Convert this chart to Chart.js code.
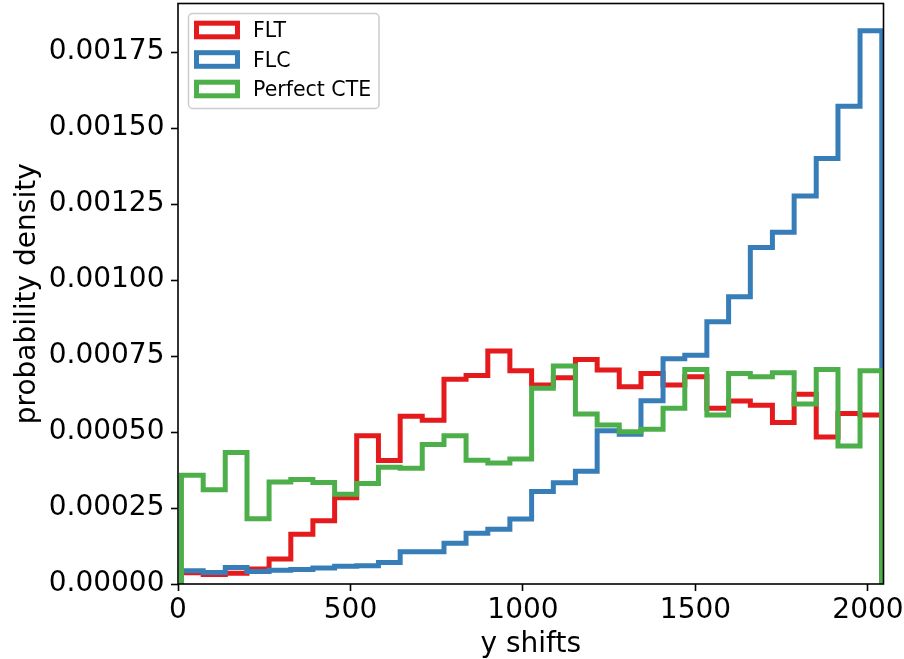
<!DOCTYPE html>
<html>
<head>
<meta charset="utf-8">
<script src="https://cdn.jsdelivr.net/npm/chart.js@4.4.0/dist/chart.umd.min.js"></script>
<style>
  html, body { margin: 0; padding: 0; background: #fff; }
  canvas { display: block; }
</style>
</head>
<body>
<canvas id="chart" width="904" height="659"></canvas>
<script>
// histogram bin edges (y shifts) and densities per bin
const binEdges = [10, 73, 137, 200, 264, 327, 391, 454, 518, 581, 644, 708, 771, 835, 898, 962,
  1025, 1088, 1152, 1215, 1279, 1342, 1406, 1469, 1533, 1596, 1659, 1723, 1786, 1850, 1913, 1977, 2040];

const fltDensity = [0.000037, 0.000031, 0.000035, 0.000049, 0.000082, 0.000164, 0.000208, 0.000284,
  0.000488, 0.000406, 0.000552, 0.000539, 0.000674, 0.000686, 0.000767, 0.000702,
  0.000655, 0.000679, 0.000739, 0.000704, 0.000649, 0.000693, 0.000655, 0.000682,
  0.000578, 0.000602, 0.000588, 0.000531, 0.000624, 0.000484, 0.000561, 0.000556];

const flcDensity = [0.000044, 0.000038, 0.000054, 0.000041, 0.000045, 0.000048, 0.000053, 0.000058,
  0.000060, 0.000071, 0.000106, 0.000106, 0.000134, 0.000167, 0.000180, 0.000214,
  0.000304, 0.000333, 0.000371, 0.000504, 0.000493, 0.000603, 0.000741, 0.000753,
  0.000863, 0.000945, 0.001107, 0.001157, 0.001277, 0.001400, 0.001572, 0.001820];

const perfectDensity = [0.000358, 0.000310, 0.000433, 0.000215, 0.000336, 0.000344, 0.000334, 0.000295,
  0.000331, 0.000384, 0.000381, 0.000459, 0.000488, 0.000407, 0.000398, 0.000411,
  0.000644, 0.000717, 0.000559, 0.000523, 0.000501, 0.000509, 0.000578, 0.000706,
  0.000556, 0.000693, 0.000682, 0.000695, 0.000592, 0.000706, 0.000454, 0.000702];

const seriesNames = ["FLT", "FLC", "Perfect CTE"];
const seriesColors = ["#e41a1c", "#377eb8", "#4daf4a"];
const xTicks = [0, 500, 1000, 1500, 2000];
const yTicks = [0, 0.00025, 0.0005, 0.00075, 0.001, 0.00125, 0.0015, 0.00175];

// step outline like matplotlib histtype="step"
function stepPoints(values) {
  const last = binEdges.length - 1;
  const pts = [{ x: binEdges[0], y: 0 }];
  values.forEach((v, i) => pts.push({ x: binEdges[i], y: v }));
  pts.push({ x: binEdges[last], y: values[values.length - 1] });
  pts.push({ x: binEdges[last], y: 0 });
  return pts;
}

const allSeries = [fltDensity, flcDensity, perfectDensity];

Chart.defaults.font.family = "'DejaVu Sans', sans-serif";
Chart.defaults.color = "#000";

// full box around the axes, drawn over the lines
const frame = {
  id: "frame",
  afterDatasetsDraw(chart) {
    const { ctx, chartArea: a } = chart;
    ctx.save();
    ctx.strokeStyle = "#000";
    ctx.lineWidth = 1.6;
    ctx.strokeRect(a.left, a.top, a.right - a.left, a.bottom - a.top);
    ctx.restore();
  }
};

// legend in the upper left corner of the axes
const innerLegend = {
  id: "innerLegend",
  afterDraw(chart) {
    const { ctx, chartArea: a } = chart;
    const x0 = a.left + 10.5, y0 = a.top + 10;
    ctx.save();
    ctx.beginPath();
    ctx.roundRect(x0, y0, 190.5, 95, 4);
    ctx.fillStyle = "rgba(255,255,255,0.8)";
    ctx.fill();
    ctx.strokeStyle = "#cccccc";
    ctx.lineWidth = 1.5;
    ctx.stroke();
    ctx.font = "20.5px 'DejaVu Sans'";
    ctx.textBaseline = "alphabetic";
    chart.data.datasets.forEach((ds, i) => {
      const cy = a.top + 26.5 + i * 29.5;
      ctx.strokeStyle = ds.borderColor;
      ctx.lineWidth = 5;
      ctx.lineJoin = "miter";
      ctx.strokeRect(a.left + 18.5, cy - 6.8, 41, 13.6);
      ctx.fillStyle = "#000";
      ctx.fillText(ds.label, a.left + 75, cy + 7.3);
    });
    ctx.restore();
  }
};

const noPad = s => { s.paddingTop = 0; s.paddingBottom = 0; s.paddingLeft = 0; s.paddingRight = 0; };

new Chart(document.getElementById("chart"), {
  type: "line",
  data: {
    datasets: allSeries.map((vals, i) => ({
      label: seriesNames[i],
      data: stepPoints(vals),
      borderColor: seriesColors[i],
      backgroundColor: seriesColors[i],
      borderWidth: 5,
      stepped: "before",
      pointRadius: 0,
      fill: false,
      borderJoinStyle: "miter",
      borderCapStyle: "butt",
      clip: 0,
      order: 3 - i
    }))
  },
  options: {
    responsive: false,
    animation: false,
    events: [],
    layout: { padding: { left: 0, right: 20.5, top: 3.5, bottom: 0 } },
    plugins: {
      legend: { display: false },
      tooltip: { enabled: false }
    },
    scales: {
      x: {
        type: "linear",
        min: 0,
        max: 2045,
        afterFit: s => { s.height = 75; noPad(s); },
        afterBuildTicks: s => { s.ticks = xTicks.map(v => ({ value: v })); },
        ticks: {
          autoSkip: false,
          maxRotation: 0,
          padding: 6,
          font: { size: 28, lineHeight: 1 },
          color: "#000",
          callback: v => String(v)
        },
        grid: { display: true, drawOnChartArea: false, drawTicks: true, tickLength: 7, tickWidth: 1.6, tickColor: "#000" },
        border: { display: false },
        title: { display: true, text: "y shifts", color: "#000", font: { size: 28, lineHeight: 1 }, padding: { top: 0, bottom: 0 } }
      },
      y: {
        type: "linear",
        min: 0,
        max: 0.00191,
        afterFit: s => { s.width = 178; noPad(s); },
        afterBuildTicks: s => { s.ticks = yTicks.map(v => ({ value: v })); },
        ticks: {
          padding: 6.5,
          font: { size: 28 },
          color: "#000",
          callback: v => v.toFixed(5)
        },
        grid: { display: true, drawOnChartArea: false, drawTicks: true, tickLength: 7, tickWidth: 1.6, tickColor: "#000" },
        border: { display: false },
        title: { display: true, text: "probability density", color: "#000", font: { size: 28, lineHeight: 1 }, padding: { top: 14, bottom: 0 } }
      }
    }
  },
  plugins: [frame, innerLegend]
});
</script>
</body>
</html>
